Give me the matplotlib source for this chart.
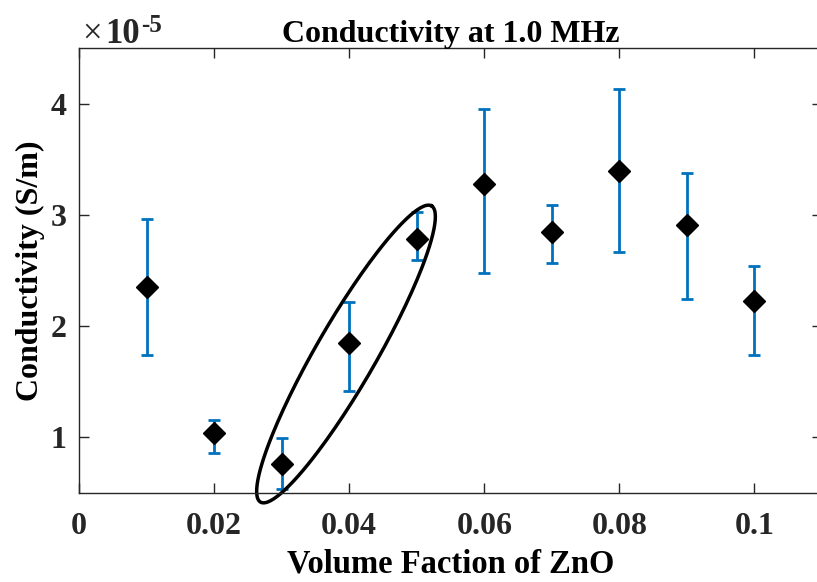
import numpy as np
import matplotlib
matplotlib.use('Agg')
import matplotlib.pyplot as plt
from matplotlib.ticker import FuncFormatter

# data (conductivity in units of 1e-5 S/m)
vol_frac = [0.01, 0.02, 0.03, 0.04, 0.05, 0.06, 0.07, 0.08, 0.09, 0.10]
cond = [2.35, 1.04, 0.76, 1.85, 2.78, 3.28, 2.85, 3.39, 2.91, 2.23]
err_hi = [2.96, 1.16, 0.99, 2.22, 3.03, 3.95, 3.09, 4.13, 3.38, 2.54]
err_lo = [1.74, 0.86, 0.54, 1.42, 2.59, 2.48, 2.57, 2.67, 2.24, 1.74]

plt.rcParams['font.family'] = ['Liberation Serif', 'DejaVu Serif']
plt.rcParams['font.weight'] = 'bold'

scale = 1e-5
y = np.array(cond) * scale
yerr = [(np.array(cond) - np.array(err_lo)) * scale,
        (np.array(err_hi) - np.array(cond)) * scale]

fig = plt.figure(figsize=(8.17, 5.82), dpi=100)
ax = fig.add_axes([79/817, 1 - 493/582, 743/817, 445/582])

ax.errorbar(vol_frac, y, yerr=yerr, fmt='none', ecolor='#0072BD',
            elinewidth=2, capsize=4, capthick=2)
ax.plot(vol_frac, y, 'D', color='black', markersize=11.5)

ax.set_xlim(0, 0.11)
ax.set_ylim(0.5e-5, 4.5e-5)
ax.set_xticks([0, 0.02, 0.04, 0.06, 0.08, 0.1])
ax.set_xticklabels(['0', '0.02', '0.04', '0.06', '0.08', '0.1'])
ax.set_yticks(np.array([1, 2, 3, 4]) * scale)
ax.yaxis.set_major_formatter(FuncFormatter(lambda v, p: '%g' % round(v / scale, 6)))

ax.tick_params(direction='in', length=7, width=1, colors='#262626',
               labelsize=23, top=True, right=True)
ax.tick_params(axis='x', pad=14)
ax.tick_params(axis='y', pad=9)
for s in ax.spines.values():
    s.set_color('#262626')
    s.set_linewidth(1)

ax.set_title('Conductivity at 1.0 MHz', fontsize=23, fontweight='bold', pad=4)
ax.set_xlabel('Volume Faction of ZnO', fontsize=23.5, fontweight='bold', labelpad=5)
ax.set_ylabel('Conductivity (S/m)', fontsize=23, fontweight='bold', labelpad=4)

# exponent label like matlab
ax.text(0.004, 1.011, '\u00d7', transform=ax.transAxes, fontsize=25,
        fontweight='normal', ha='left', va='baseline', color='#262626')
ax.text(0.036, 1.011, '10', transform=ax.transAxes, fontsize=25,
        ha='left', va='baseline', color='#262626')
ax.text(0.083, 1.036, '-5', transform=ax.transAxes, fontsize=18,
        ha='left', va='baseline', color='#262626')

# ellipse around the 0.03-0.05 points, drawn in pixel space
cx, cy = 346, 354
a, b, ang = 171, 30, np.deg2rad(60)
t = np.linspace(0, 2*np.pi, 200)
px = cx + a*np.cos(t)*np.cos(ang) - b*np.sin(t)*np.sin(ang)
py = (582 - cy) + a*np.cos(t)*np.sin(ang) + b*np.sin(t)*np.cos(ang)
ax.plot(px/817, py/582, color='black', lw=2.5, transform=fig.transFigure,
        clip_on=False)

fig.savefig('out.png', dpi=100)
